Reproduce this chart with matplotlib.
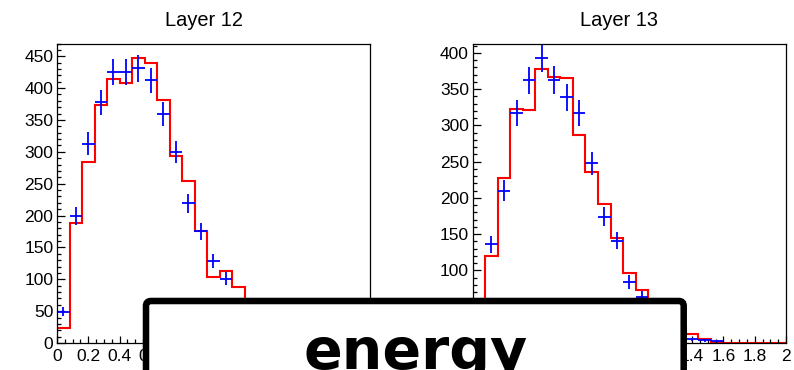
"""Layer-by-layer energy histograms (ROOT-style): simulation step vs data points."""

import matplotlib

matplotlib.use("Agg")
import matplotlib.pyplot as plt
import numpy as np
from matplotlib.patches import FancyBboxPatch
from matplotlib.ticker import MultipleLocator

W, H = 794, 370
BIN_EDGES = np.linspace(0.0, 2.0, 26)  # 25 bins of 0.08

# Layer 12
L12_SIM = [23, 188, 284, 374, 414, 408, 447, 439, 381, 293, 254, 176, 103,
           113, 88, 62, 42, 27, 16, 9, 5, 3, 1, 0, 0]
L12_DATA = [49, 199, 313, 378, 425, 425, 431, 412, 360, 300, 219, 175, 129,
            101, 58, 40, 26, 15, 8, 5, 3, 2, 1, 0, 0]
# Layer 13
L13_SIM = [30, 120, 228, 323, 321, 378, 367, 365, 287, 236, 192, 145, 97,
           73, 48, 32, 20, 13, 6, 1, 0, 0, 0, 0, 0]
L13_DATA = [40, 136, 210, 317, 362, 393, 363, 339, 317, 248, 174, 141, 84,
            64, 42, 27, 15, 5, 4, 3, 0, 0, 0, 0, 0]

PANELS = [
    ("Layer 12", L12_SIM, L12_DATA, 470, 204),
    ("Layer 13", L13_SIM, L13_DATA, 413, 619),
]
AX_LEFT = [57, 472.7]
AX_RIGHT = [369.5, 786]
AX_TOP, AX_BOTTOM = 43.5, 343


def _style():
    plt.rcParams.update({
        "font.family": ["Liberation Sans", "DejaVu Sans"],
        "font.size": 12.5,
        "axes.linewidth": 0.9,
        "axes.edgecolor": "black",
    })


def _draw_panel(ax, sim, data, ymax):
    centers = 0.5 * (BIN_EDGES[:-1] + BIN_EDGES[1:])
    half = 0.5 * np.diff(BIN_EDGES)
    ax.stairs(sim, BIN_EDGES, color="red", lw=1.5, baseline=0)
    data = np.asarray(data, dtype=float)
    keep = data > 0
    ax.errorbar(centers[keep], data[keep], xerr=half[keep], yerr=np.sqrt(data[keep]),
                fmt="none", ecolor="blue", elinewidth=1.3, capsize=0)
    ax.set_xlim(0, 2)
    ax.set_ylim(0, ymax)
    ax.xaxis.set_major_locator(MultipleLocator(0.2))
    ax.xaxis.set_minor_locator(MultipleLocator(0.05))
    ax.yaxis.set_major_locator(MultipleLocator(50))
    ax.yaxis.set_minor_locator(MultipleLocator(10))
    ax.xaxis.set_major_formatter(lambda v, p: f"{v:g}")
    ax.tick_params(which="both", direction="in", top=False, right=False,
                   width=0.9, color="black", labelsize=12.5)
    ax.tick_params(which="major", length=5.4)
    ax.tick_params(which="minor", length=2.9)
    ax.tick_params(axis="x", pad=4)
    ax.tick_params(axis="y", pad=2.7)


def main():
    _style()
    fig = plt.figure(figsize=(W / 100, H / 100), dpi=100)
    for i, (title, sim, data, ymax, tx) in enumerate(PANELS):
        x0, x1 = AX_LEFT[i], AX_RIGHT[i]
        ax = fig.add_axes([x0 / W, (H - AX_BOTTOM) / H, (x1 - x0) / W, (AX_BOTTOM - AX_TOP) / H])
        _draw_panel(ax, sim, data, ymax)
        fig.text(tx / W, (H - 26) / H, title, ha="center", va="baseline", fontsize=14.4)

    # overlay box with the quantity name, partly cut off by the canvas edge
    over = fig.add_axes([0, 0, 1, 1], zorder=10)
    over.set_xlim(0, W)
    over.set_ylim(H, 0)
    over.axis("off")
    box = FancyBboxPatch((146, 301), 537.7, 120, boxstyle="round,pad=0,rounding_size=5",
                         facecolor="white", edgecolor="black", lw=4.7)
    over.add_patch(box)
    over.text(415.8, 369, "energy", ha="center", va="baseline", fontsize=41,
              fontweight="bold", family="DejaVu Sans")

    fig.savefig("out.png", dpi=100)


if __name__ == "__main__":
    main()
